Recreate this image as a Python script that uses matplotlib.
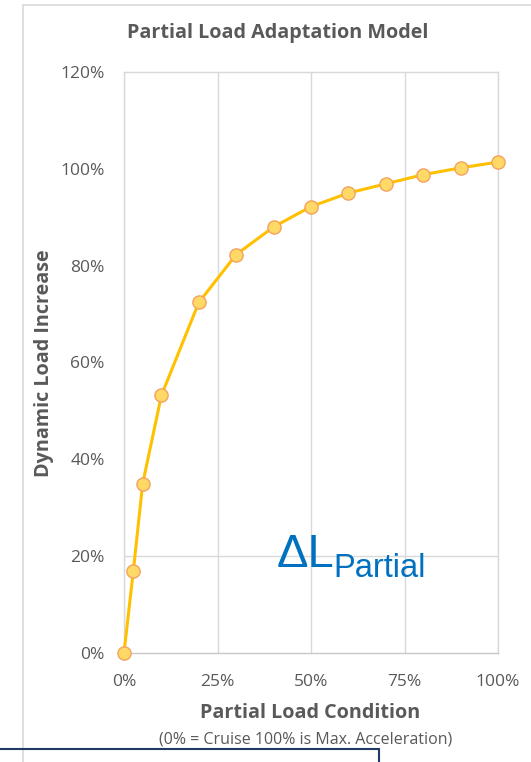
import matplotlib.pyplot as plt
from matplotlib.patches import Rectangle
from matplotlib.ticker import PercentFormatter

# partial load condition vs. dynamic load increase
load_condition = [0, 2.5, 5, 10, 20, 30, 40, 50, 60, 70, 80, 90, 100]
load_increase = [0, 17, 35, 53.2, 72.4, 82.3, 88, 92.2, 95, 96.9, 98.8, 100.2, 101.4]

x_ticks = [0, 25, 50, 75, 100]
y_ticks = [0, 20, 40, 60, 80, 100, 120]

title = "Partial Load Adaptation Model"
x_label = "Partial Load Condition"
x_note = "(0% = Cruise 100% is Max. Acceleration)"
y_label = "Dynamic Load Increase"

GRAY_TEXT = "#595959"
GRID = "#D9D9D9"

plt.rcParams["font.family"] = ["Open Sans", "DejaVu Sans"]

fig = plt.figure(figsize=(5.31, 7.62), dpi=100)
fig.patch.set_facecolor("white")

# chart area frame
fig.add_artist(Rectangle((23 / 531, -0.05), 1.0, 1 - 5 / 762 + 0.05,
                         transform=fig.transFigure, fill=False,
                         edgecolor=GRID, linewidth=1.2))
# box below the chart
fig.add_artist(Rectangle((-0.05, -0.05), 379 / 531 + 0.05, 0.05 + 13 / 762,
                         transform=fig.transFigure, fill=False,
                         edgecolor="#1F3864", linewidth=1.5))

ax = fig.add_axes([124 / 531, 109 / 762, 374 / 531, 581 / 762])
ax.set_xlim(0, 100)
ax.set_ylim(0, 120)
ax.set_xticks(x_ticks)
ax.set_yticks(y_ticks)
ax.xaxis.set_major_formatter(PercentFormatter(decimals=0))
ax.yaxis.set_major_formatter(PercentFormatter(decimals=0))
ax.tick_params(length=0, labelsize=12.5, labelcolor=GRAY_TEXT)
ax.tick_params(axis="x", pad=15)
ax.tick_params(axis="y", pad=14)

for name, spine in ax.spines.items():
    spine.set_color(GRID)
    spine.set_linewidth(1.0)
ax.spines["bottom"].set_color("#C8C8C8")

ax.grid(axis="x", color=GRID, linewidth=1.0)
ax.axhline(20, color=GRID, linewidth=1.0, zorder=0)
ax.set_axisbelow(True)

ax.plot(load_condition, load_increase, color="#FFC000", linewidth=2.2,
        marker="o", markersize=9.5, markerfacecolor="#FFD966",
        markeredgecolor="#F4A261", markeredgewidth=1.0, clip_on=False, zorder=3)

ax.text(40.9, 17.8, "ΔL", color="#0070C0", fontsize=34,
        family="Liberation Sans", va="baseline", ha="left")
ax.text(56.1, 15.6, "Partial", color="#0070C0", fontsize=23.5,
        family="Liberation Sans", va="baseline", ha="left")

fig.text(278 / 531, 1 - 33 / 762, title, ha="center", va="center",
         fontsize=14.2, fontweight="bold", color=GRAY_TEXT)
fig.text(44 / 531, 1 - 363 / 762, y_label, ha="center", va="center",
         rotation=90, fontsize=14.2, fontweight="bold", color=GRAY_TEXT)
fig.text(310 / 531, 1 - 713 / 762, x_label, ha="center", va="center",
         fontsize=14.2, fontweight="bold", color=GRAY_TEXT)
fig.text(306 / 531, 1 - 739 / 762, x_note, ha="center", va="center",
         fontsize=11.5, color=GRAY_TEXT)

fig.savefig("out.png", dpi=100)
